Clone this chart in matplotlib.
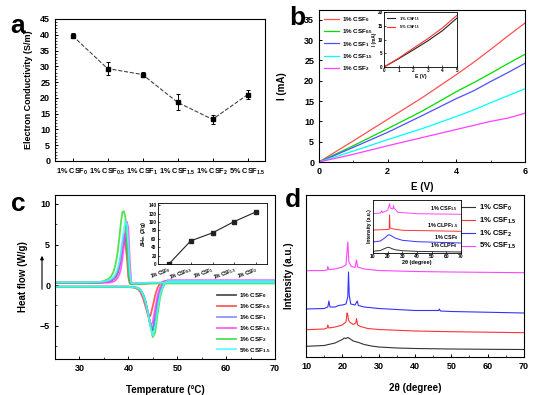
import matplotlib
matplotlib.use('Agg')
import matplotlib.pyplot as plt

plt.rcParams['font.family'] = ['Liberation Sans', 'DejaVu Sans']
plt.rcParams['font.weight'] = 'bold'
plt.rcParams['axes.labelweight'] = 'bold'
plt.rcParams['mathtext.fontset'] = 'custom'
plt.rcParams['mathtext.rm'] = 'Liberation Sans:bold'
plt.rcParams['mathtext.it'] = 'Liberation Sans:bold'
plt.rcParams['mathtext.bf'] = 'Liberation Sans:bold'
plt.rcParams['mathtext.default'] = 'rm'
plt.rcParams['xtick.direction'] = 'in'
plt.rcParams['ytick.direction'] = 'in'
plt.rcParams['axes.linewidth'] = 0.8

# -------------------------------
# Data
# -------------------------------
# (a) conductivity
a_labels = [r'1% CSF$_{0}$', r'1% CSF$_{0.5}$', r'1% CSF$_{1}$',
            r'1% CSF$_{1.5}$', r'1% CSF$_{2}$', r'5% CSF$_{1.5}$']
a_values = [39.7, 29.3, 27.4, 18.6, 13.2, 21.0]
a_errors = [0.8, 2.0, 0.8, 2.5, 1.5, 1.5]

# (b) I-V curves
b_E = [0, 1, 2, 3, 4, 4.5, 5, 5.5, 6]
b_csf0 = [0, 5.2, 10.5, 15.8, 21.5, 24.5, 27.7, 31.0, 34.2]
b_csf05 = [0, 4.0, 8.2, 12.5, 17.3, 19.5, 21.8, 24.2, 26.5]
b_csf1 = [0, 3.6, 7.3, 11.4, 15.6, 17.5, 19.8, 22.0, 24.3]
b_csf15 = [0, 2.7, 5.5, 8.2, 11.2, 12.8, 14.6, 16.3, 18.0]
b_csf2 = [0, 1.9, 4.0, 6.0, 8.0, 9.0, 10.0, 10.8, 12.0]
b_labels = [r'1% CSF$_{0}$', r'1% CSF$_{0.5}$', r'1% CSF$_{1}$',
            r'1% CSF$_{1.5}$', r'1% CSF$_{2}$']

# (b) inset
bi_E = [0, 1, 2, 3, 4, 5]
bi_1pct = [0, 3.0, 6.2, 9.5, 13.2, 17.8]
bi_5pct = [0, 3.2, 6.8, 10.3, 14.2, 18.8]

# (c) DSC, heating scans
heat_T = [25, 30, 35, 38, 40, 41, 42, 42.5, 43, 43.5, 44, 44.5, 45, 45.5,
          46, 46.5, 47, 47.5, 48, 49, 50, 55, 60, 70]
heat_csf0 = [-0.2, -0.2, -0.2, -0.2, -0.2, -0.25, -0.35, -0.6, -1.1, -2.0, -3.3, -4.9, -5.6, -4.2,
             -2.0, -0.7, 0.05, 0.4, 0.5, 0.5, 0.5, 0.5, 0.5, 0.5]
heat_csf05 = [-0.2, -0.2, -0.2, -0.2, -0.2, -0.25, -0.5, -0.9, -1.6, -2.6, -3.6, -3.8, -2.6, -1.2,
              -0.3, 0.2, 0.4, 0.5, 0.5, 0.5, 0.5, 0.5, 0.5, 0.5]
heat_csf1 = [-0.2, -0.2, -0.2, -0.2, -0.2, -0.25, -0.35, -0.6, -1.1, -2.0, -3.3, -4.8, -5.3, -3.8,
             -1.8, -0.6, 0.1, 0.4, 0.55, 0.55, 0.55, 0.55, 0.55, 0.55]
heat_csf15 = [-0.2, -0.2, -0.2, -0.2, -0.2, -0.25, -0.4, -0.7, -1.3, -2.3, -3.6, -4.9, -4.6, -2.8,
              -1.2, -0.3, 0.2, 0.45, 0.6, 0.6, 0.6, 0.6, 0.6, 0.6]
heat_csf2 = [-0.25, -0.25, -0.25, -0.25, -0.25, -0.3, -0.4, -0.7, -1.2, -2.1, -3.4, -5.0, -6.4, -5.8,
             -3.5, -1.5, -0.4, 0.2, 0.4, 0.4, 0.4, 0.4, 0.4, 0.4]
heat_5csf15 = [-0.2, -0.2, -0.2, -0.2, -0.2, -0.25, -0.35, -0.6, -1.1, -2.0, -3.3, -5.0, -6.2, -5.0,
               -2.8, -1.1, -0.2, 0.3, 0.5, 0.5, 0.5, 0.5, 0.5, 0.5]

# (c) DSC, cooling scans
cool_T = [70, 60, 50, 45, 42, 41, 40.6, 40.3, 40.0, 39.7, 39.4, 39.1, 38.8, 38.5,
          38.2, 37.8, 37.4, 37.0, 36.5, 36.0, 35.0, 34.0, 32.0, 30.0, 25.0]
cool_csf0 = [0.25, 0.25, 0.25, 0.25, 0.2, 0.15, 0.15, 0.4, 2.2, 4.7, 6.0, 5.8, 4.7, 3.4,
             2.4, 1.5, 1.0, 0.75, 0.55, 0.45, 0.35, 0.3, 0.3, 0.3, 0.3]
cool_csf05 = [0.25, 0.25, 0.25, 0.25, 0.2, 0.15, 0.15, 0.2, 1.0, 3.5, 5.0, 5.3, 4.6, 3.5,
              2.5, 1.6, 1.1, 0.8, 0.6, 0.5, 0.4, 0.35, 0.3, 0.3, 0.3]
cool_csf1 = [0.25, 0.25, 0.25, 0.25, 0.2, 0.15, 0.15, 0.5, 2.5, 5.0, 6.4, 6.2, 5.0, 3.6,
             2.5, 1.6, 1.1, 0.8, 0.6, 0.45, 0.35, 0.3, 0.3, 0.3, 0.3]
cool_csf15 = [0.3, 0.3, 0.3, 0.3, 0.25, 0.2, 0.4, 3.0, 7.0, 7.8, 6.8, 5.0, 3.3, 2.1,
              1.4, 0.9, 0.6, 0.45, 0.35, 0.3, 0.3, 0.3, 0.3, 0.3, 0.3]
cool_csf2 = [0.2, 0.2, 0.2, 0.2, 0.15, 0.1, 0.1, 0.3, 2.0, 5.5, 8.3, 9.1, 9.0, 7.8,
             6.0, 4.0, 2.6, 1.7, 1.1, 0.8, 0.5, 0.35, 0.3, 0.3, 0.3]
cool_5csf15 = [0.3, 0.3, 0.3, 0.3, 0.25, 0.2, 0.3, 1.5, 5.0, 7.5, 7.8, 7.0, 5.6, 4.2,
               3.0, 2.0, 1.4, 1.0, 0.75, 0.6, 0.45, 0.4, 0.35, 0.35, 0.35]
c_labels = [r'1% CSF$_{0}$', r'1% CSF$_{0.5}$', r'1% CSF$_{1}$',
            r'1% CSF$_{1.5}$', r'1% CSF$_{2}$', r'5% CSF$_{1.5}$']

# (c) inset: melting enthalpy
ci_labels = [r'1% CSF$_{0}$', r'1% CSF$_{0.5}$', r'1% CSF$_{1}$',
             r'1% CSF$_{1.5}$', r'1% CSF$_{2}$']
ci_values = [0, 55, 74, 101, 124]

# (d) XRD patterns (stacked, arbitrary units)
d_x_black = [10, 15, 18, 20, 20.5, 21, 21.5, 22, 23, 24.5, 26, 28, 30, 35, 40, 50, 60, 70]
d_y_black = [10.7, 11.5, 14, 17.5, 19, 18.5, 19.5, 18.5, 16, 14.5, 12.5, 11, 10, 9, 8.5, 8, 7.7, 7.5]
d_x_red = [10, 15, 15.8, 16, 16.3, 18, 20, 21, 21.3, 21.5, 21.7, 22, 23, 23.7, 23.9, 24.2,
           25, 27, 30, 40, 50, 70]
d_y_red = [27.3, 28, 29, 32, 29, 30, 32, 35, 44, 42, 37, 35, 32.5, 34, 38.5, 32,
           30.5, 28.5, 27.5, 26, 25.3, 24.3]
d_x_blue = [10, 15, 16, 16.3, 16.6, 18, 19, 20, 21, 21.5, 21.7, 21.9, 22.3, 23.5, 24.1, 24.4,
            26, 30, 40, 46.5, 46.7, 47, 50, 70]
d_y_blue = [48, 48.5, 50, 56, 50, 50, 51.5, 52, 53, 60, 85, 62, 53, 52, 56, 51.5,
            50, 48.5, 46.5, 46.5, 48, 46, 45.5, 44]
d_x_mag = [10, 15, 15.8, 16, 16.3, 18, 20, 21, 21.5, 21.8, 22.5, 23.5, 23.9, 24.2,
           26, 30, 40, 50, 70]
d_y_mag = [86.3, 86.5, 87, 90.5, 87.5, 88, 90, 92, 115, 95, 90.5, 89.5, 97, 90,
           88, 86.5, 85.5, 85, 84.3]
d_labels = [r'1% CSF$_{0}$', r'1% CSF$_{1.5}$', r'1% CSF$_{2}$', r'5% CSF$_{1.5}$']

# (d) inset
di_x_black = [10, 15, 18, 20, 21, 23, 25, 30, 40, 70]
di_y_black = [1.7, 2.5, 4.5, 5.7, 5.6, 4.3, 3.3, 2.3, 1.6, 1.0]
di_x_blue = [10, 15, 18, 20, 21, 23, 25, 30, 40, 70]
di_y_blue = [11, 12, 15, 17.7, 18.3, 16.8, 15, 12.7, 11.3, 10]
di_x_red = [10, 15, 20, 21, 21.3, 21.6, 24, 30, 70]
di_y_red = [23, 23.2, 23.5, 23.7, 38, 25, 24, 22.7, 21.7]
di_x_mag = [10, 15, 16, 16.3, 20, 21.3, 21.8, 23.5, 24, 24.3, 27, 40, 70]
di_y_mag = [39.3, 40, 42.3, 40.5, 42.7, 49.3, 45, 44, 47.3, 45, 40.7, 39.3, 38.7]
di_labels = [r'1% CLPF$_{0}$', r'1% CSF$_{0}$', r'1% CLPF$_{1.5}$', r'1% CSF$_{1.5}$']

# -------------------------------
# Figure
# -------------------------------
W, H = 554, 395
fig = plt.figure(figsize=(W / 100, H / 100), dpi=100)


def box(x0, y0, x1, y1):
    # pixel box (top-left origin) -> figure fraction
    return [x0 / W, 1 - y1 / H, (x1 - x0) / W, (y1 - y0) / H]


tick_fs = 6.5
lab_fs = 7

# -------------------------------
# Panel a
# -------------------------------
ax = fig.add_axes(box(55, 19, 265, 161))
pos = list(range(1, len(a_values) + 1))
ax.errorbar(pos, a_values, yerr=a_errors, fmt='s', color='black', ms=3.5,
            ecolor='black', elinewidth=0.7, capsize=1.5, capthick=0.7, zorder=3)
ax.plot(pos, a_values, '--', color='#444444', lw=0.8, zorder=2)
ax.set_xlim(0.5, 6.5)
ax.set_ylim(0, 45)
ax.set_yticks(range(0, 46, 5))
ax.set_yticks(range(0, 46, 1), minor=True)
ax.set_xticks(pos)
ax.set_xticklabels(a_labels, fontsize=5.3)
ax.tick_params(axis='y', labelsize=tick_fs, length=2.5, width=0.7)
ax.tick_params(axis='y', which='minor', length=1.2, width=0.5)
ax.tick_params(axis='x', length=2.5, width=0.7, pad=4)
ax.set_ylabel('Electron Conductivity (S/m)', fontsize=6.5)
ax.yaxis.set_label_coords(-0.105, 0.5)
fig.text(18 / W, 1 - 26 / H, 'a', fontsize=19, fontweight='bold', ha='center', va='center')

# -------------------------------
# Panel b
# -------------------------------
ax = fig.add_axes(box(319, 10, 525, 162))
b_colors = ['#ff5050', '#00dd00', '#5050ff', '#00ffff', '#ff40ff']
for ys, c, lab in zip([b_csf0, b_csf05, b_csf1, b_csf15, b_csf2], b_colors, b_labels):
    ax.plot(b_E, ys, color=c, lw=0.9, label=lab)
ax.set_xlim(0, 6)
ax.set_ylim(0, 37.4)
ax.set_xticks([0, 2, 4, 6])
ax.set_xticks([1, 3, 5], minor=True)
ax.set_yticks(range(0, 36, 5))
ax.tick_params(labelsize=tick_fs, length=2.5, width=0.7)
ax.tick_params(which='minor', length=1.5, width=0.5)
ax.set_xlabel('E (V)', fontsize=lab_fs)
ax.set_ylabel('I (mA)', fontsize=lab_fs)
ax.xaxis.set_label_coords(0.5, -0.13)
ax.yaxis.set_label_coords(-0.155, 0.5)
ax.legend(loc='upper left', fontsize=4.5, frameon=False, handlelength=2.4,
          labelspacing=0.55, borderaxespad=0.4, handletextpad=0.5)

axi = fig.add_axes(box(384, 12, 457, 67))
axi.plot(bi_E, bi_1pct, color='#222222', lw=0.8, label=r'1% CSF$_{1.5}$')
axi.plot(bi_E, bi_5pct, color='#ff3030', lw=0.8, label=r'5% CSF$_{1.5}$')
axi.set_xlim(0, 5)
axi.set_ylim(0, 20)
axi.set_xticks(range(0, 6))
axi.set_yticks([0, 5, 10, 15, 20])
axi.tick_params(labelsize=3.3, length=1.2, width=0.5, pad=1)
for s in axi.spines.values():
    s.set_linewidth(0.6)
axi.set_xlabel('E (V)', fontsize=3.6, labelpad=0.5)
axi.set_ylabel('I (mA)', fontsize=3.3, labelpad=0.3)
axi.legend(loc='upper left', fontsize=3.0, frameon=False, handlelength=2,
           labelspacing=0.2, borderaxespad=0.3)
fig.text(297 / W, 1 - 18 / H, 'b', fontsize=19, fontweight='bold', ha='center', va='center')

# -------------------------------
# Panel c
# -------------------------------
ax = fig.add_axes(box(55, 195, 275, 359))
c_colors = ['#333333', '#ff4040', '#8080ff', '#ff40ff', '#33dd33', '#40ffff']
heats = [heat_csf0, heat_csf05, heat_csf1, heat_csf15, heat_csf2, heat_5csf15]
cools = [cool_csf0, cool_csf05, cool_csf1, cool_csf15, cool_csf2, cool_5csf15]
for hq, cq, c, lab in zip(heats, cools, c_colors, c_labels):
    ax.plot(heat_T, hq, color=c, lw=1.3, alpha=0.85, label=lab)
    ax.plot(cool_T, cq, color=c, lw=1.3, alpha=0.85)
ax.set_xlim(25, 70)
ax.set_ylim(-9.1, 11.1)
ax.set_xticks([30, 40, 50, 60, 70])
ax.set_xticks(range(25, 71, 5), minor=True)
ax.set_yticks([-5, 0, 5, 10])
ax.set_yticks([-7.5, -2.5, 2.5, 7.5], minor=True)
ax.tick_params(labelsize=tick_fs, length=2.5, width=0.7)
ax.tick_params(which='minor', length=1.5, width=0.5)
ax.set_xlabel('Temperature (°C)', fontsize=lab_fs)
ax.set_ylabel('Heat flow (W/g)', fontsize=lab_fs)
ax.xaxis.set_label_coords(0.5, -0.16)
ax.yaxis.set_label_coords(-0.123, 0.5)
ax.legend(loc='lower right', fontsize=4.6, frameon=False, handlelength=3.0,
          labelspacing=0.3, borderaxespad=0.3, handletextpad=0.4)
fig.add_artist(matplotlib.patches.FancyArrowPatch(
    (42 / W, 1 - 292 / H), (42 / W, 1 - 253 / H), transform=fig.transFigure,
    arrowstyle='-|>', mutation_scale=5, lw=0.8, color='black'))

axi = fig.add_axes(box(158, 203, 267, 264))
cpos = list(range(1, len(ci_values) + 1))
axi.plot(cpos, ci_values, '-s', color='#222222', lw=0.8, ms=2.5)
axi.set_xlim(0.5, 5.5)
axi.set_ylim(0, 145)
axi.set_yticks(range(0, 141, 20))
axi.set_xticks(cpos)
axi.set_xticklabels(ci_labels, rotation=20, ha='right', fontsize=3.4,
                    rotation_mode='anchor')
axi.tick_params(labelsize=3.4, length=1.2, width=0.5, pad=1)
for s in axi.spines.values():
    s.set_linewidth(0.6)
axi.set_ylabel(r'ΔH$_{m}$ (J/g)', fontsize=4, labelpad=0.5)
fig.text(18 / W, 1 - 204 / H, 'c', fontsize=19, fontweight='bold', ha='center', va='center')

# -------------------------------
# Panel d
# -------------------------------
ax = fig.add_axes(box(306, 195, 524, 357))
d_colors = ['#333333', '#ff3333', '#3333ff', '#ff44ff']
for xs, ys, c, lab in zip([d_x_black, d_x_red, d_x_blue, d_x_mag],
                          [d_y_black, d_y_red, d_y_blue, d_y_mag], d_colors, d_labels):
    ax.plot(xs, ys, color=c, lw=0.8, label=lab)
ax.set_xlim(10, 70)
ax.set_ylim(0, 162)
ax.set_xticks(range(10, 71, 10))
ax.set_xticks(range(15, 70, 10), minor=True)
ax.set_yticks([])
ax.tick_params(labelsize=tick_fs, length=2.5, width=0.7)
ax.tick_params(which='minor', length=1.5, width=0.5)
ax.set_xlabel('2θ (degree)', fontsize=lab_fs)
ax.set_ylabel('Intensity (a.u.)', fontsize=lab_fs)
ax.xaxis.set_label_coords(0.5, -0.16)
ax.yaxis.set_label_coords(-0.055, 0.5)
ax.legend(loc='upper right', fontsize=5.5, frameon=False, handlelength=2.2,
          labelspacing=0.35, borderaxespad=0.6, handletextpad=0.5)

axi = fig.add_axes(box(373, 200, 461, 253))
di_colors = ['#333333', '#3333ff', '#ff3333', '#ff44ff']
for xs, ys, c in zip([di_x_black, di_x_blue, di_x_red, di_x_mag],
                     [di_y_black, di_y_blue, di_y_red, di_y_mag], di_colors):
    axi.plot(xs, ys, color=c, lw=0.7)
axi.set_xlim(10, 70)
axi.set_ylim(0, 53)
axi.set_xticks(range(10, 71, 10))
axi.set_yticks([])
axi.tick_params(labelsize=3.6, length=1.2, width=0.5, pad=1)
for s in axi.spines.values():
    s.set_linewidth(0.6)
axi.set_xlabel('2θ (degree)', fontsize=4, labelpad=0.5)
axi.set_ylabel('Intensity (a.u.)', fontsize=3.6, labelpad=1)
for lab, yv in zip(di_labels, [di_y_black[-1], di_y_blue[-1], di_y_red[-1], di_y_mag[-1]]):
    axi.text(68, yv + 1.5, lab, fontsize=4, ha='right', va='bottom')
fig.text(293 / W, 1 - 200 / H, 'd', fontsize=19, fontweight='bold', ha='center', va='center')

fig.savefig('out.png', dpi=100)
